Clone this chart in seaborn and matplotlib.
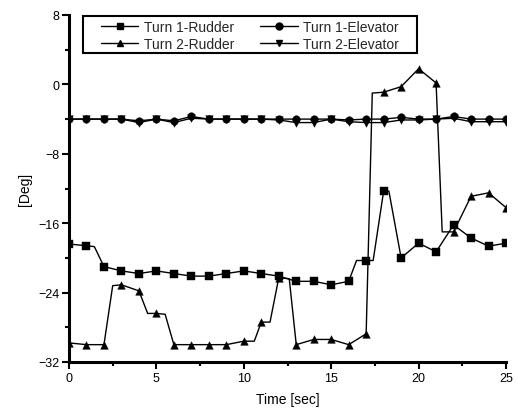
import numpy as np
import pandas as pd
import matplotlib
matplotlib.use("Agg")
import matplotlib.pyplot as plt
from matplotlib.patches import Rectangle
import seaborn as sns

# ---- data ----
t1r_time = [0, 1, 1.45, 2, 3, 4, 5, 6, 7, 8, 9, 10, 11, 12, 13, 14, 15, 16, 16.45,
            17, 17.4, 18, 18.3, 19, 20, 21, 22, 23, 24, 25]
t1r_val = [-18.4, -18.6, -18.7, -21.0, -21.5, -21.8, -21.5, -21.8, -22.1, -22.1, -21.8,
           -21.5, -21.8, -22.1, -22.7, -22.7, -23.1, -22.7, -20.3, -20.3, -20.3, -12.3,
           -12.3, -20.0, -18.3, -19.3, -16.2, -17.7, -18.65, -18.3]

t2r_time = [0, 1, 2, 2.5, 3, 4, 4.5, 5, 5.5, 6, 7, 8, 9, 10, 10.6, 11, 11.5, 12, 12.6,
            13, 14, 15, 16, 17, 17.35, 18, 19, 20, 21, 21.35, 22, 23, 24, 25]
t2r_val = [-29.8, -30.0, -30.0, -23.2, -23.1, -23.8, -26.4, -26.4, -26.5, -30.0, -30.0,
           -30.0, -30.0, -29.6, -29.6, -27.4, -27.4, -22.3, -22.4, -30.0, -29.4, -29.4,
           -30.0, -28.75, -1.0, -0.9, -0.26, 1.8, 0.17, -17.0, -17.0, -12.9, -12.5, -14.2]

elev_time = list(range(26))
t1e_val = [-4.0, -4.0, -4.0, -4.0, -4.2, -4.0, -4.2, -3.7, -4.0, -4.0, -4.0, -4.0, -4.0,
           -4.0, -4.0, -4.0, -4.1, -4.0, -4.0, -3.8, -4.0, -4.0, -3.7, -4.0, -4.0, -4.0]
t2e_val = [-4.0, -4.0, -4.0, -4.0, -4.4, -4.0, -4.4, -3.9, -4.0, -4.0, -4.0, -4.0, -4.1,
           -4.4, -4.4, -4.0, -4.3, -4.4, -4.4, -4.1, -4.1, -4.0, -3.9, -4.3, -4.3, -4.3]

labels = ["Turn 1-Rudder", "Turn 1-Elevator", "Turn 2-Rudder", "Turn 2-Elevator"]
x_ticks = [0, 5, 10, 15, 20, 25]
y_ticks = [-32, -24, -16, -8, 0, 8]

series = {
    labels[0]: (t1r_time, t1r_val, "s"),
    labels[1]: (elev_time, t1e_val, "o"),
    labels[2]: (t2r_time, t2r_val, "^"),
    labels[3]: (elev_time, t2e_val, "v"),
}

sns.set_theme(style="ticks")
plt.rcParams["font.family"] = ["Liberation Sans", "DejaVu Sans"]

fig = plt.figure(figsize=(5.18, 4.14), dpi=100)
ax = fig.add_axes([69 / 518, 1 - 363 / 414, (506 - 69) / 518, (363 - 16) / 414])

handles = {}
for name, (tt, vv, mk) in series.items():
    df = pd.DataFrame({"time": tt, "val": vv})
    sns.lineplot(data=df, x="time", y="val", ax=ax, color="black", lw=1.0,
                 estimator=None, sort=False, zorder=2)
    mdf = df[np.isclose(df["time"] % 1, 0)]
    sns.scatterplot(data=mdf, x="time", y="val", ax=ax, marker=mk, color="black",
                    s=30, edgecolor="black", linewidth=0.3, zorder=3)
    handles[name] = plt.Line2D([], [], color="black", lw=1.0, marker=mk, markersize=5,
                               label=name)

ax.set_xlim(0, 25)
ax.set_ylim(-32, 8)
ax.set_xticks(x_ticks)
ax.set_yticks(y_ticks)
ax.set_xticks([2.5, 7.5, 12.5, 17.5, 22.5], minor=True)
ax.set_yticks([-28, -20, -12, -4, 4], minor=True)
ax.tick_params(axis="both", which="major", direction="out", length=5, width=1.5,
               labelsize=9, color="black", labelcolor="black", pad=2)
ax.tick_params(axis="both", which="minor", direction="out", length=3, width=1.5,
               color="black")
for side in ["top", "right"]:
    ax.spines[side].set_visible(False)
for side in ["left", "bottom"]:
    ax.spines[side].set_linewidth(2.2)
    ax.spines[side].set_color("black")

ax.set_xlabel("Time [sec]", fontsize=10, color="black", labelpad=6)
ax.set_ylabel("[Deg]", fontsize=10, color="black", labelpad=4)

order = [labels[0], labels[2], labels[1], labels[3]]
leg_x0 = (83 - 69) / 437
leg_w = (417 - 83) / 437
leg_top = 1 - (17 - 16) / 347
leg_bot = 1 - (54 - 16) / 347
leg = ax.legend(handles=[handles[n] for n in order], ncol=2, loc="upper left",
                bbox_to_anchor=(leg_x0 + 0.03, 0.5, leg_w - 0.06, 0.5), mode="expand",
                borderaxespad=0, frameon=False, fontsize=10, handlelength=2.7,
                handletextpad=0.4, columnspacing=1.3, labelspacing=0.25, borderpad=0.35)
ax.add_patch(Rectangle((leg_x0, leg_bot), leg_w, leg_top - leg_bot,
                       transform=ax.transAxes, fill=True, facecolor="white",
                       edgecolor="black", lw=1.5, zorder=4, clip_on=False))
leg.set_zorder(5)

fig.savefig("out.png", dpi=100)
